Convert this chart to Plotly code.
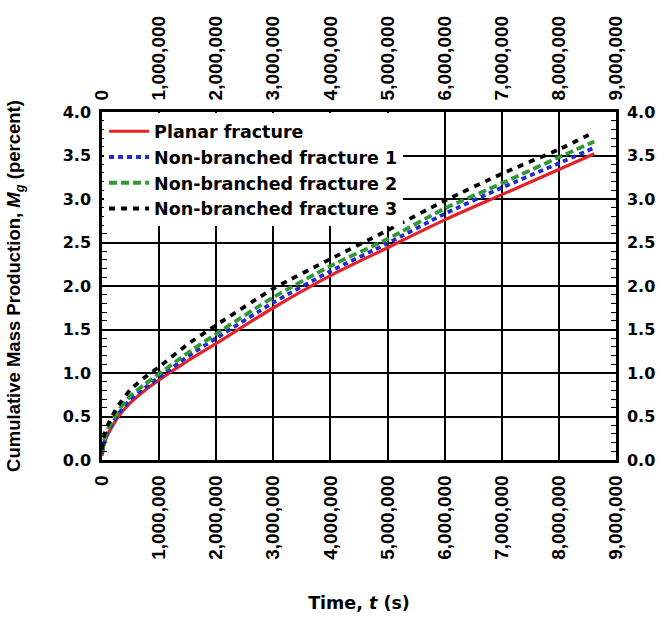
import plotly.graph_objects as go

# Elapsed time (s) at the sampled points
TIME_S = [0, 20_000, 50_000, 100_000, 200_000, 300_000, 500_000, 750_000,
          1_000_000, 1_500_000, 2_000_000, 3_000_000, 4_000_000, 5_000_000,
          6_000_000, 7_000_000, 8_000_000, 8_620_000]

# Cumulative mass production M_g (percent) per fracture geometry
PLANAR = [0.05, 0.13, 0.21, 0.29, 0.41, 0.51, 0.66, 0.80, 0.92, 1.14, 1.34,
          1.75, 2.12, 2.44, 2.76, 3.05, 3.34, 3.52]
NONBRANCHED_1 = [0.07, 0.15, 0.23, 0.32, 0.44, 0.54, 0.70, 0.83, 0.95, 1.19,
                 1.40, 1.81, 2.17, 2.49, 2.83, 3.13, 3.41, 3.59]
NONBRANCHED_2 = [0.09, 0.17, 0.26, 0.35, 0.47, 0.58, 0.74, 0.87, 0.99, 1.23,
                 1.45, 1.87, 2.23, 2.54, 2.89, 3.18, 3.48, 3.66]
NONBRANCHED_3 = [0.12, 0.22, 0.31, 0.40, 0.53, 0.64, 0.81, 0.95, 1.07, 1.33,
                 1.55, 1.97, 2.31, 2.64, 2.98, 3.29, 3.57, 3.77]

SERIES_NAMES = ["Planar fracture", "Non-branched fracture 1",
                "Non-branched fracture 2", "Non-branched fracture 3"]

X_RANGE = [0, 9_000_000]
X_STEP = 1_000_000
Y_RANGE = [0, 4.0]
Y_STEP = 0.5

WIDE = "DejaVu Sans, Verdana, sans-serif"
NARROW = "Liberation Sans, Arial, sans-serif"

styles = [
    dict(color="#e42328", width=3.2, dash="solid"),
    dict(color="#1f2bd0", width=3.8, dash="5px,4px"),
    dict(color="#2f9a34", width=3.8, dash="8px,4px"),
    dict(color="#000000", width=3.8, dash="6px,6px"),
]

fig = go.Figure()
for name, vals, st in zip(SERIES_NAMES,
                          [PLANAR, NONBRANCHED_1, NONBRANCHED_2, NONBRANCHED_3],
                          styles):
    fig.add_trace(go.Scatter(
        x=TIME_S, y=vals, mode="lines", name=name,
        line=dict(color=st["color"], width=st["width"], dash=st["dash"],
                  shape="spline", smoothing=0.6),
    ))

# invisible trace so the mirrored top/right axes are drawn
fig.add_trace(go.Scatter(x=[None], y=[None], xaxis="x2", yaxis="y2",
                         showlegend=False, hoverinfo="skip"))

xtickfont = dict(family=NARROW, size=19, color="black", weight="bold")
ytickfont = dict(family=WIDE, size=16, color="black", weight="bold")

x_common = dict(range=X_RANGE, dtick=X_STEP, tick0=0, tickformat=",d",
                tickangle=-90, ticks="inside", ticklen=6, tickwidth=1.5,
                tickcolor="black", showline=True, linecolor="black",
                linewidth=2.5, zeroline=False, tickfont=xtickfont)
y_common = dict(range=Y_RANGE, dtick=Y_STEP, tick0=0, tickformat=".1f",
                ticks="inside", ticklen=6, tickwidth=1.5, tickcolor="black",
                showline=True, linecolor="black", linewidth=2.5,
                zeroline=False, tickfont=ytickfont,
                minor=dict(dtick=0.1, ticks="inside", ticklen=5,
                           tickwidth=1.2, tickcolor="black", showgrid=False))

fig.update_layout(
    width=667, height=622,
    margin=dict(l=99, r=40, t=112, b=156),
    paper_bgcolor="white", plot_bgcolor="white",
    font=dict(family=NARROW, color="black"),
    xaxis=dict(**x_common, showgrid=True, gridcolor="black", gridwidth=1.8,
               ticklabelstandoff=5,
               title=dict(text="Time, <i>t</i> (s)",
                          font=dict(family=WIDE, size=17.5, color="black",
                                    weight="bold"),
                          standoff=38)),
    xaxis2=dict(**x_common, overlaying="x", side="top", anchor="y",
                showgrid=False, ticklabelstandoff=5),
    yaxis=dict(**y_common, showgrid=True, gridcolor="black", gridwidth=1.8,
               ticklabelstandoff=5,
               title=dict(text="Cumulative Mass Production, "
                               "<i>M<sub>g</sub></i> (percent)",
                          font=dict(family=NARROW, size=18.5, color="black",
                                    weight="bold"),
                          standoff=38)),
    yaxis2=dict(**y_common, overlaying="y", side="right", anchor="x",
                showgrid=False, ticklabelstandoff=5),
    legend=dict(x=0.004, y=0.996, xanchor="left", yanchor="top",
                bgcolor="white", borderwidth=0,
                font=dict(family=WIDE, size=17.5, color="black",
                          weight="bold"),
                itemwidth=40, tracegroupgap=0),
    showlegend=True,
)

fig.write_html("out.html")
